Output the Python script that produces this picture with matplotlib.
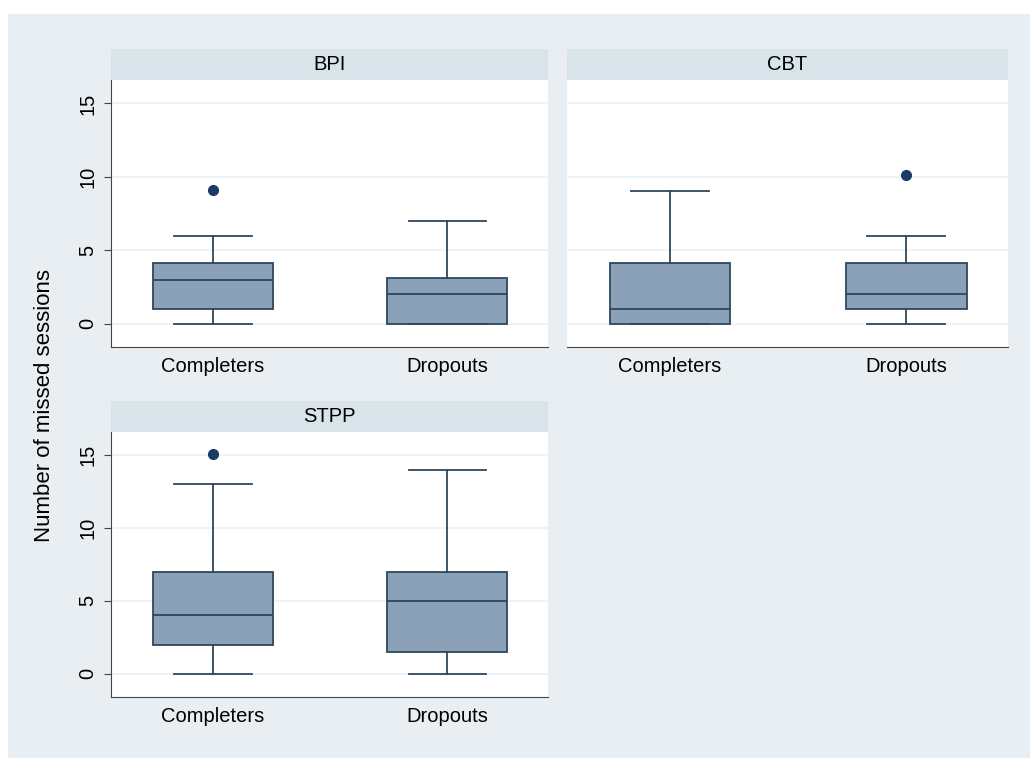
import matplotlib.pyplot as plt
from matplotlib.patches import Rectangle

plt.rcParams['font.family'] = ['Liberation Sans', 'DejaVu Sans']

groups = ['Completers', 'Dropouts']
panels = ['BPI', 'CBT', 'STPP']

# per panel: [completers, dropouts]
whislo = {'BPI': [0, 0], 'CBT': [0, 0], 'STPP': [0, 0]}
q1 = {'BPI': [1, 0], 'CBT': [0, 1], 'STPP': [2, 1.5]}
med = {'BPI': [3, 2], 'CBT': [1, 2], 'STPP': [4, 5]}
q3 = {'BPI': [4.1, 3.1], 'CBT': [4.1, 4.1], 'STPP': [7, 7]}
whishi = {'BPI': [6, 7], 'CBT': [9, 6], 'STPP': [13, 14]}
fliers = {'BPI': [[9.1], []], 'CBT': [[], [10.1]], 'STPP': [[15.1], []]}

yticks = [0, 5, 10, 15]

bg = '#e8eef2'
strip = '#d8e3ea'
box_fill = '#8aa1b8'
edge = '#2e4660'
dot = '#1b3a66'

W, H = 1030, 758
fig = plt.figure(figsize=(W / 100, H / 100), dpi=100, facecolor='white')
fig.patches.append(Rectangle((8 / W, 0), 1 - 8 / W, 1 - 14 / H, transform=fig.transFigure,
                             facecolor=bg, edgecolor='none', zorder=-10))

# pixel boxes: left, top, right, bottom of the plot area
boxes = {'BPI': (111, 80, 548, 347), 'CBT': (567, 80, 1008, 347), 'STPP': (111, 432, 548, 697)}
strip_h = 31

for p in panels:
    l, t, r, b = boxes[p]
    ax = fig.add_axes([l / W, 1 - b / H, (r - l) / W, (b - t) / H])
    ax.set_facecolor('white')
    stats = []
    for i, g in enumerate(groups):
        stats.append({'label': g, 'whislo': whislo[p][i], 'q1': q1[p][i], 'med': med[p][i],
                      'q3': q3[p][i], 'whishi': whishi[p][i], 'fliers': fliers[p][i]})
    ax.bxp(stats, positions=[1, 2], widths=0.51, patch_artist=True, showfliers=True,
           boxprops=dict(facecolor=box_fill, edgecolor=edge, linewidth=1.3),
           medianprops=dict(color=edge, linewidth=1.3),
           whiskerprops=dict(color=edge, linewidth=1.3),
           capprops=dict(color=edge, linewidth=1.3),
           capwidths=0.33,
           flierprops=dict(marker='o', markerfacecolor=dot, markeredgecolor=dot, markersize=7))
    ax.set_xlim(0.565, 2.43)
    ax.set_ylim(-1.6, 16.6)
    ax.set_yticks(yticks)
    ax.yaxis.grid(True, color='#edf1f4', linewidth=1.2)
    ax.set_axisbelow(True)
    for s in ['top', 'right']:
        ax.spines[s].set_visible(False)
    ax.spines['bottom'].set_color('#444444')
    ax.spines['left'].set_color('#444444')
    ax.tick_params(axis='x', length=0, labelsize=14.5, pad=7)
    ax.tick_params(axis='y', length=5, labelsize=14.5, rotation=90, color='#444444', pad=5)
    for lab in ax.get_yticklabels():
        lab.set_va('center')
    if p == 'CBT':
        ax.spines['left'].set_visible(False)
        ax.tick_params(axis='y', left=False, labelleft=False)
    sh = strip_h / (b - t)
    ax.add_patch(Rectangle((0, 1), 1, sh, transform=ax.transAxes, facecolor=strip,
                           edgecolor='none', clip_on=False))
    ax.text(0.5, 1 + sh / 2, p, transform=ax.transAxes, ha='center', va='center', fontsize=14.5)

fig.text(45 / W, 1 - 405 / H, 'Number of missed sessions', rotation=90, ha='center', va='center',
         fontsize=16)

fig.savefig('out.png', dpi=100, facecolor='white')
